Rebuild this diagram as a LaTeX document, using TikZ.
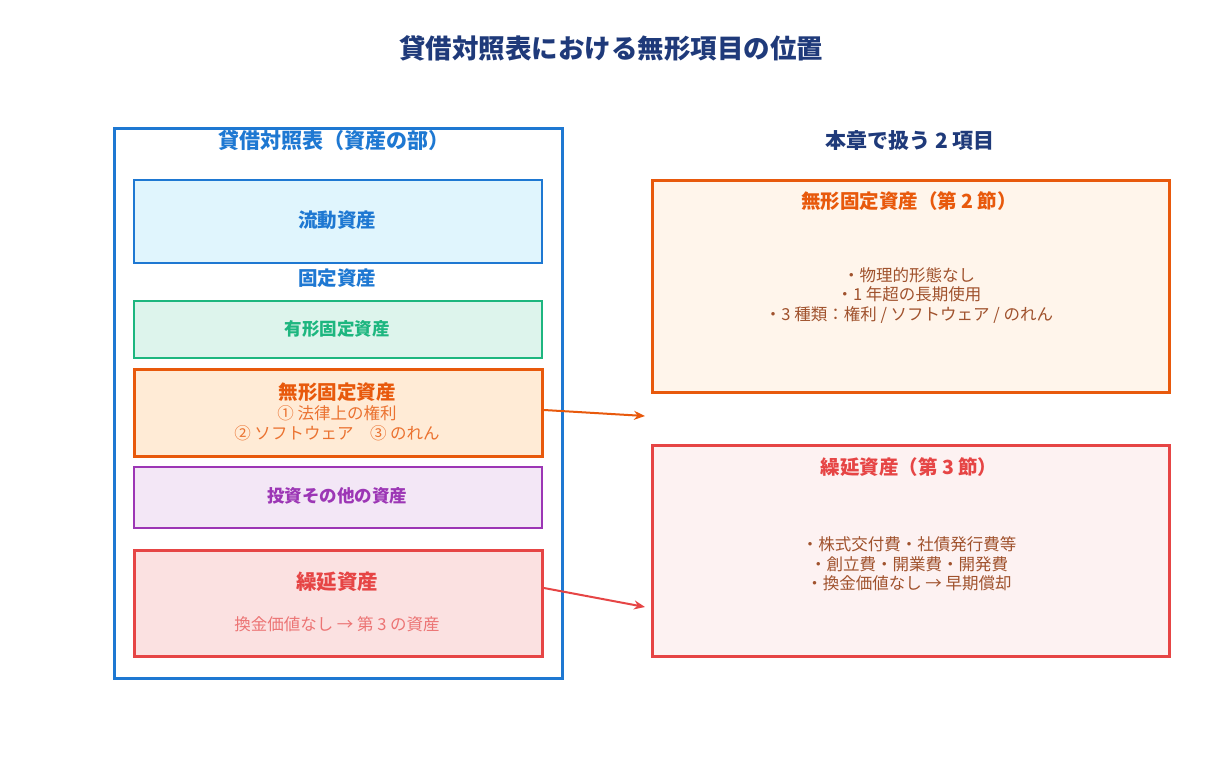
\documentclass[tikz,border=0pt]{standalone}
\usepackage{fontspec}
\setmainfont{Noto Sans CJK JP}
\usetikzlibrary{arrows.meta}
\definecolor{navy}{HTML}{1F3A7A}
\definecolor{bblue}{HTML}{1E78D2}
\definecolor{gr}{HTML}{1DB67F}
\definecolor{org}{HTML}{E8590C}
\definecolor{pur}{HTML}{9C36B5}
\definecolor{rd}{HTML}{E64545}
\definecolor{brn}{HTML}{A0522D}
\tikzset{
 box/.style={draw, line width=1.5pt, anchor=north west, inner sep=0pt},
 ttl/.style={font=\bfseries\fontsize{21}{25}\selectfont},
 lab/.style={font=\bfseries\fontsize{19.5}{23}\selectfont},
 sml/.style={font=\fontsize{16.5}{19.5}\selectfont},
 arr/.style={line width=2pt,-{Stealth[length=11pt,width=9pt]}}
}
\begin{document}
\begin{tikzpicture}[x=1pt,y=-1pt]
\useasboundingbox[fill=white] (0,0) rectangle (1221,782);
\node[font=\bfseries\fontsize{26.5}{30}\selectfont,text=navy] (title) at (611,48) {貸借対照表における無形項目の位置};
\node[draw=bblue,line width=2.5pt,minimum width=448pt,minimum height=550pt,anchor=north west,inner sep=0pt] (frame) at (113,127) {};
\node[ttl,text=bblue] (lt) at (334,140) {貸借対照表（資産の部）};
\node[box,draw=bblue,fill=cyan!12,minimum width=408pt,minimum height=83pt] (b1) at (133,179) {};
\node[lab,text=bblue] (t1) at (337,220) {流動資産};
\node[lab,text=bblue] (fx) at (337,278) {固定資産};
\node[box,draw=gr,fill=gr!15,minimum width=408pt,minimum height=57pt] (b2) at (133,300) {};
\node[font=\bfseries\fontsize{17.5}{20}\selectfont,text=gr] (t2) at (337,329) {有形固定資産};
\node[box,draw=org,line width=2.5pt,fill=orange!16,minimum width=408pt,minimum height=87pt] (b3) at (133,368) {};
\node[lab,text=org] (t3) at (337,392) {無形固定資産};
\node[sml,text=org!85] (t3a) at (337,413) {① 法律上の権利};
\node[sml,text=org!85] (t3b) at (337,433) {② ソフトウェア\quad ③ のれん};
\node[box,draw=pur,fill=pur!12,minimum width=408pt,minimum height=61pt] (b4) at (133,466) {};
\node[font=\bfseries\fontsize{17.5}{20}\selectfont,text=pur] (t4) at (337,496) {投資その他の資産};
\node[box,draw=rd,line width=2.5pt,fill=rd!16,minimum width=408pt,minimum height=106pt] (b5) at (133,549) {};
\node[font=\bfseries\fontsize{20.5}{24}\selectfont,text=rd] (t5) at (337,582) {繰延資産};
\node[sml,text=rd!75] (t5a) at (337,624) {換金価値なし → 第 3 の資産};
\node[ttl,text=navy] (rt) at (910,141) {本章で扱う 2 項目};
\node[box,draw=org,line width=2.5pt,fill=orange!8,minimum width=517pt,minimum height=212pt] (r1) at (651,179) {};
\node[lab,text=org] (r1t) at (909,201) {無形固定資産（第 2 節）};
\node[sml,text=brn,align=center] (r1b) at (909,295) {・物理的形態なし\\・1 年超の長期使用\\・3 種類：権利 / ソフトウェア / のれん};
\node[box,draw=rd,line width=2.5pt,fill=rd!7,minimum width=517pt,minimum height=211pt] (r2) at (651,444) {};
\node[lab,text=rd] (r2t) at (909,467) {繰延資産（第 3 節）};
\node[sml,text=brn,align=center] (r2b) at (909,564) {・株式交付費・社債発行費等\\・創立費・開業費・開発費\\・換金価値なし → 早期償却};
\coordinate (a1s) at (544,410); \coordinate (a1e) at (645,416);
\coordinate (a2s) at (544,588); \coordinate (a2e) at (645,607);
\draw[arr,org] (a1s) -- (a1e);
\draw[arr,rd] (a2s) -- (a2e);
\end{tikzpicture}
\end{document}
